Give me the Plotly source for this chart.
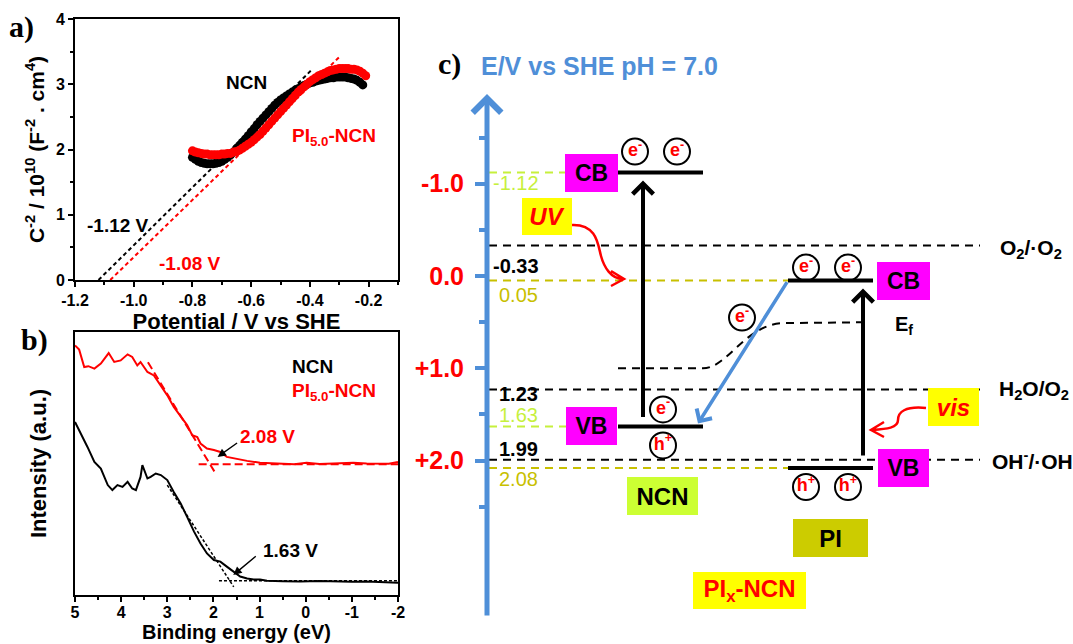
import plotly.graph_objects as go

W, H = 1073, 644
FONT = "Liberation Sans, Arial, sans-serif"
SERIF = "Liberation Serif, Times New Roman, serif"

# ======================= DATA =======================
# (a) Mott-Schottky plots
ms_v_ncn = [-0.80, -0.79, -0.78, -0.77, -0.76, -0.75, -0.74, -0.73, -0.72, -0.71,
            -0.70, -0.69, -0.68, -0.67, -0.66, -0.65, -0.64, -0.63, -0.62, -0.61,
            -0.60, -0.59, -0.58, -0.57, -0.56, -0.55, -0.54, -0.53, -0.52, -0.51,
            -0.50, -0.49, -0.48, -0.47, -0.46, -0.45, -0.44, -0.43, -0.42, -0.41,
            -0.40, -0.39, -0.38, -0.37, -0.36, -0.35, -0.34, -0.33, -0.32, -0.31,
            -0.30, -0.29, -0.28, -0.27, -0.26, -0.25, -0.24, -0.23, -0.22]
ms_c2_ncn = [1.88, 1.85, 1.82, 1.80, 1.79, 1.78, 1.78, 1.78, 1.79, 1.80,
             1.82, 1.85, 1.88, 1.92, 1.96, 2.01, 2.06, 2.11, 2.16, 2.21,
             2.27, 2.32, 2.38, 2.43, 2.48, 2.53, 2.58, 2.63, 2.68, 2.72,
             2.76, 2.79, 2.82, 2.85, 2.88, 2.91, 2.93, 2.96, 2.98, 3.00,
             3.02, 3.03, 3.05, 3.06, 3.07, 3.08, 3.09, 3.10, 3.10, 3.11,
             3.11, 3.11, 3.11, 3.10, 3.09, 3.08, 3.06, 3.03, 2.99]
ms_v_pi = [-0.80, -0.79, -0.78, -0.77, -0.76, -0.75, -0.74, -0.73, -0.72, -0.71,
           -0.70, -0.69, -0.68, -0.67, -0.66, -0.65, -0.64, -0.63, -0.62, -0.61,
           -0.60, -0.59, -0.58, -0.57, -0.56, -0.55, -0.54, -0.53, -0.52, -0.51,
           -0.50, -0.49, -0.48, -0.47, -0.46, -0.45, -0.44, -0.43, -0.42, -0.41,
           -0.40, -0.39, -0.38, -0.37, -0.36, -0.35, -0.34, -0.33, -0.32, -0.31,
           -0.30, -0.29, -0.28, -0.27, -0.26, -0.25, -0.24, -0.23, -0.22, -0.21]
ms_c2_pi = [1.98, 1.96, 1.95, 1.94, 1.93, 1.93, 1.92, 1.92, 1.92, 1.92,
            1.93, 1.93, 1.94, 1.94, 1.96, 1.97, 1.99, 2.02, 2.05, 2.08,
            2.11, 2.15, 2.19, 2.23, 2.28, 2.33, 2.38, 2.43, 2.48, 2.53,
            2.58, 2.63, 2.68, 2.73, 2.78, 2.83, 2.88, 2.92, 2.96, 3.00,
            3.04, 3.07, 3.10, 3.13, 3.15, 3.17, 3.19, 3.21, 3.22, 3.23,
            3.24, 3.24, 3.24, 3.24, 3.23, 3.23, 3.22, 3.20, 3.17, 3.13]
ms_fit_ncn_x = [-1.12, -0.394]
ms_fit_ncn_y = [0.0, 3.22]
ms_fit_pi_x = [-1.08, -0.297]
ms_fit_pi_y = [0.0, 3.43]
ms_xticks = [-1.2, -1.0, -0.8, -0.6, -0.4, -0.2]
ms_xticktext = ["-1.2", "-1.0", "-0.8", "-0.6", "-0.4", "-0.2"]
ms_yticks = [0, 1, 2, 3, 4]
ms_yticktext = ["0", "1", "2", "3", "4"]

# (b) valence-band XPS
xps_be_pi = [5.00, 4.91, 4.80, 4.71, 4.58, 4.44, 4.27, 4.15, 4.01, 3.86,
             3.76, 3.65, 3.58, 3.43, 3.29, 3.14, 3.00, 2.86, 2.71, 2.57,
             2.46, 2.35, 2.28, 2.14, 1.99, 1.85, 1.71, 1.56, 1.27, 0.99,
             0.70, 0.48, 0.25, -0.02, -0.30, -0.60, -0.80, -1.03, -1.32, -1.60,
             -1.80, -2.00]
xps_int_pi = [94.9, 93.3, 86.7, 87.0, 86.1, 88.0, 92.0, 88.6, 89.2, 91.5,
              90.5, 87.3, 88.6, 84.8, 83.5, 79.7, 75.9, 71.5, 67.7, 64.6,
              60.8, 60.1, 57.6, 55.7, 55.1, 54.4, 52.5, 51.9, 51.0, 50.3,
              50.1, 50.0, 49.7, 50.3, 49.8, 50.0, 50.2, 50.3, 50.0, 50.1,
              49.9, 50.6]
xps_be_ncn = [5.00, 4.87, 4.73, 4.58, 4.44, 4.29, 4.19, 4.08, 3.97, 3.86,
              3.76, 3.68, 3.58, 3.54, 3.50, 3.43, 3.36, 3.25, 3.14, 3.00,
              2.86, 2.71, 2.57, 2.42, 2.28, 2.14, 1.99, 1.85, 1.71, 1.56,
              1.42, 1.27, 1.13, 0.99, 0.84, 0.50, 0.12, -0.30, -0.60, -1.00,
              -1.32, -1.70, -2.00]
xps_int_ncn = [65.8, 61.4, 56.3, 50.6, 48.1, 41.8, 39.9, 41.8, 41.1, 43.0,
               40.5, 39.9, 44.9, 49.4, 47.5, 44.3, 44.9, 46.2, 45.6, 43.7,
               39.2, 34.8, 29.7, 24.1, 19.6, 15.8, 13.3, 12.7, 10.8, 8.9,
               7.0, 6.3, 5.9, 5.9, 5.4, 5.2, 5.1, 5.3, 5.1, 5.0,
               5.1, 5.0, 4.7]
xps_fit_pi_slope_x = [3.42, 1.98]
xps_fit_pi_slope_y = [88.5, 47.0]
xps_fit_pi_base_x = [2.32, -2.00]
xps_fit_pi_base_y = [49.7, 49.7]
xps_fit_ncn_slope_x = [3.00, 1.56]
xps_fit_ncn_slope_y = [41.8, 3.1]
xps_fit_ncn_base_x = [1.88, -2.00]
xps_fit_ncn_base_y = [5.4, 5.4]
xps_xticks = [5, 4, 3, 2, 1, 0, -1, -2]
xps_xticktext = ["5", "4", "3", "2", "1", "0", "-1", "-2"]

# (c) band diagram (E / V vs SHE, pH 7)
materials = ["NCN", "PI"]
cb_levels = [-1.12, 0.05]
vb_levels = [1.63, 2.08]
fermi_levels = [1.0, 0.5]
redox_names = ["O<sub>2</sub>/·O<sub>2</sub>", "H<sub>2</sub>O/O<sub>2</sub>", "OH<sup>-</sup>/·OH"]
redox_levels = [-0.33, 1.23, 1.99]
c_ticks = [-1.0, 0.0, 1.0, 2.0]
c_ticktext = ["-1.0", "0.0", "+1.0", "+2.0"]
c_minor_ticks = [-1.5, -0.5, 0.5, 1.5, 2.5]

# ======================= STYLE / GEOMETRY =======================
BLUE = "#4f8fd8"
LIME = "#c6f03c"
LIME_BOX = "#ccff33"
OLIVE = "#c8c000"
OLIVE_BOX = "#cccc00"
MAGENTA = "#ff00ff"
YELLOW = "#ffff00"
RED = "#ff0000"

PXV = 92.3     # pixels per volt (panel c)
E0 = 276.0     # pixel row of 0 V (panel c)


def ev(px):
    return (px - E0) / PXV


def dv(px):
    return px / PXV


AX_X = 487                 # x of energy axis (panel c)
band_x0 = [618, 788]       # band line start per material
band_x1 = [703, 873]       # band line end per material
arrow_x = [643, 863]       # excitation arrow x per material
box_x = [591, 903]         # CB/VB label boxes x per material
LINE_X0 = 489
REDOX_X1 = 980

fig = go.Figure()

# ---------- panel a ----------
fig.add_trace(go.Scatter(x=ms_fit_ncn_x, y=ms_fit_ncn_y, mode="lines",
                         line=dict(color="black", width=2, dash="4px,3px"),
                         xaxis="x", yaxis="y", hoverinfo="skip"))
fig.add_trace(go.Scatter(x=ms_fit_pi_x, y=ms_fit_pi_y, mode="lines",
                         line=dict(color=RED, width=2, dash="4px,3px"),
                         xaxis="x", yaxis="y", hoverinfo="skip"))
fig.add_trace(go.Scatter(x=ms_v_ncn, y=ms_c2_ncn, mode="markers", name="NCN",
                         marker=dict(color="black", size=9),
                         xaxis="x", yaxis="y"))
fig.add_trace(go.Scatter(x=ms_v_pi, y=ms_c2_pi, mode="markers", name="PI5.0-NCN",
                         marker=dict(color=RED, size=9),
                         xaxis="x", yaxis="y"))

# ---------- panel b ----------
for xs, ys in [(xps_fit_pi_slope_x, xps_fit_pi_slope_y),
               (xps_fit_pi_base_x, xps_fit_pi_base_y)]:
    fig.add_trace(go.Scatter(x=xs, y=ys, mode="lines",
                             line=dict(color=RED, width=2, dash="8px,4px"),
                             xaxis="x2", yaxis="y2", hoverinfo="skip"))
for xs, ys in [(xps_fit_ncn_slope_x, xps_fit_ncn_slope_y),
               (xps_fit_ncn_base_x, xps_fit_ncn_base_y)]:
    fig.add_trace(go.Scatter(x=xs, y=ys, mode="lines",
                             line=dict(color="black", width=1.5, dash="3px,2px"),
                             xaxis="x2", yaxis="y2", hoverinfo="skip"))
fig.add_trace(go.Scatter(x=xps_be_pi, y=xps_int_pi, mode="lines", name="PI5.0-NCN",
                         line=dict(color=RED, width=2), xaxis="x2", yaxis="y2"))
fig.add_trace(go.Scatter(x=xps_be_ncn, y=xps_int_ncn, mode="lines", name="NCN",
                         line=dict(color="black", width=2), xaxis="x2", yaxis="y2"))

# ---------- panel c ----------
shapes = []
# dashed reference levels
level_specs = [
    (cb_levels[0], LIME, 565),
    (redox_levels[0], "black", REDOX_X1),
    (cb_levels[1], OLIVE, band_x0[1]),
    (redox_levels[1], "black", REDOX_X1),
    (vb_levels[0], LIME, 566),
    (redox_levels[2], "black", REDOX_X1),
    (vb_levels[1], OLIVE, band_x0[1]),
]
for lvl, col, x1 in level_specs:
    shapes.append(dict(type="line", xref="x3", yref="y3", x0=LINE_X0, x1=x1,
                       y0=lvl, y1=lvl, line=dict(color=col, width=2, dash="8px,6px"),
                       layer="below"))
# band edges
for i in range(2):
    for lvl in (cb_levels[i], vb_levels[i]):
        shapes.append(dict(type="line", xref="x3", yref="y3", x0=band_x0[i], x1=band_x1[i],
                           y0=lvl, y1=lvl, line=dict(color="black", width=4)))
# Fermi level (dashed curve)
ef_path = (f"M {band_x0[0]},{fermi_levels[0]} L {band_x1[0]},{fermi_levels[0]} "
           f"C 727,{fermi_levels[0]} 745,{fermi_levels[1] + dv(3)} 782,{fermi_levels[1] + dv(1)} "
           f"L {band_x1[1] - 3},{fermi_levels[1]}")
shapes.append(dict(type="path", xref="x3", yref="y3", path=ef_path,
                   line=dict(color="black", width=2, dash="8px,6px")))
# curved red light arrows (UV, vis)
uv_path = (f"M 572,{ev(225)} C 597,{ev(224)} 598,{ev(245)} 601,{ev(256)} "
           f"S 611,{ev(279)} 623,{ev(279)} "
           f"M 611,{ev(271)} L 624,{ev(279)} L 611,{ev(286)}")
vis_path = (f"M 926,{ev(408)} C 905,{ev(406)} 898,{ev(412)} 898,{ev(420)} "
            f"S 887,{ev(429)} 872,{ev(430)} "
            f"M 884,{ev(422)} L 871,{ev(430)} L 884,{ev(437)}")
for p in (uv_path, vis_path):
    shapes.append(dict(type="path", xref="x3", yref="y3", path=p,
                       line=dict(color=RED, width=2.5)))

# carriers (e-, h+) as circled labels
car_x = [635, 677, 806, 848, 742, 663, 663, 806, 848]
car_y = [cb_levels[0] - dv(21), cb_levels[0] - dv(21),
         cb_levels[1] - dv(13), cb_levels[1] - dv(13),
         cb_levels[1] + dv(37),
         vb_levels[0] - dv(17), vb_levels[0] + dv(19),
         vb_levels[1] + dv(19), vb_levels[1] + dv(19)]
car_t = ["e<sup>-</sup>"] * 6 + ["h<sup>+</sup>"] * 3
fig.add_trace(go.Scatter(x=car_x, y=car_y, mode="markers+text", text=car_t,
                         textposition="middle center",
                         textfont=dict(color=RED, size=18, family=FONT, weight="bold"),
                         marker=dict(size=26, color="white", line=dict(color="black", width=2)),
                         xaxis="x3", yaxis="y3", hoverinfo="skip"))

ann = []


def txt(x, y, text, ref="", size=19, color="black", bold=True, xanchor="left",
        yshift=0, family=FONT, italic=False, **kw):
    d = dict(x=x, y=y, text=text, showarrow=False, xanchor=xanchor, yanchor="middle",
             yshift=yshift,
             font=dict(size=size, color=color, family=family,
                       weight="bold" if bold else "normal",
                       style="italic" if italic else "normal"))
    if ref == "paper":
        d.update(xref="paper", yref="paper")
    else:
        d.update(xref="x" + ref, yref="y" + ref)
    d.update(kw)
    ann.append(d)


# panel labels
txt(7 / W, 1 - 27 / H, "a)", "paper", size=30, family=SERIF)
txt(19 / W, 1 - 340 / H, "b)", "paper", size=30, family=SERIF)
txt(436 / W, 1 - 64 / H, "c)", "paper", size=30, family=SERIF)
txt(479 / W, 1 - 66 / H, "E/V vs SHE pH = 7.0", "paper", size=25, color=BLUE)

# panel a labels
txt(-0.693, 3.02, "NCN")
txt(-0.469, 2.19, "PI<sub>5.0</sub>-NCN", color=RED)
txt(-1.166, 0.84, "-1.12 V")
txt(-0.921, 0.26, "-1.08 V", color=RED)

# panel b labels
txt(0.34, 86.7, "NCN", "2")
txt(0.34, 77.2, "PI<sub>5.0</sub>-NCN", "2", color=RED)
txt(0.83, 60.1, "2.08 V", "2", color=RED, xanchor="center")
txt(0.34, 17.1, "1.63 V", "2", xanchor="center")
for hx, hy, axp, ayp in [(1.91, 52.5, 21, -15), (1.57, 7.6, 24, -20)]:
    ann.append(dict(x=hx, y=hy, xref="x2", yref="y2", ax=axp, ay=ayp, text="",
                    showarrow=True, arrowhead=2, arrowsize=1.2, arrowwidth=1.4,
                    arrowcolor="black"))

# panel c level value labels
lvl_labels = [
    (cb_levels[0], LIME, -10), (redox_levels[0], "black", -20),
    (cb_levels[1], OLIVE, -14), (redox_levels[1], "black", -4),
    (vb_levels[0], LIME, 11), (redox_levels[2], "black", 11),
    (vb_levels[1], OLIVE, -11),
]
for lvl, col, ys in lvl_labels:
    txt(491 if lvl < 0 else 497, lvl, f"{lvl:.2f}", "3", size=20, color=col,
        bold=(col == "black"), yshift=ys)

# redox couple names
for name, lvl, xl in zip(redox_names, redox_levels, [998, 997, 990]):
    txt(xl, lvl, name, "3", size=21, yshift=-3 if lvl < 0 else 0)
txt(893, fermi_levels[1], "E<sub>f</sub>", "3", size=20, yshift=-3)


def box(x, y, text, bg, w, h, color="black", italic=False, size=24):
    ann.append(dict(x=x, y=y, xref="x3", yref="y3", text=text, showarrow=False,
                    bgcolor=bg, width=w, height=h, borderpad=0, borderwidth=0,
                    xanchor="center", yanchor="middle", align="center", valign="middle",
                    font=dict(size=size, color=color, family=FONT, weight="bold",
                              style="italic" if italic else "normal")))


for i in range(2):
    box(box_x[i], cb_levels[i], "CB", MAGENTA, 53, 38, size=23)
    box(box_x[i], vb_levels[i], "VB", MAGENTA, 51, 38, size=23)
box(547, ev(216), "UV", YELLOW, 50, 37, color=RED, italic=True)
box(953, ev(407), "vis", YELLOW, 51, 38, color=RED, italic=True)
box(662.5, ev(496), "NCN", LIME_BOX, 71, 38)
box(830.5, ev(538), "PI", OLIVE_BOX, 75, 38)
box(749.5, ev(590), "PI<sub>x</sub>-NCN", YELLOW, 113, 37, color=RED)


# arrows (energy axis, excitations, electron transfer)
def arrow(x, y, ax, ay, color, width, size=1.0):
    ann.append(dict(x=x, y=y, ax=ax, ay=ay, xref="x3", yref="y3", axref="x3", ayref="y3",
                    text="", showarrow=True, arrowhead=4, arrowsize=size,
                    arrowwidth=width, arrowcolor=color, standoff=0, startstandoff=0))


arrow(AX_X, ev(94), AX_X, ev(617), BLUE, 5, 1.1)
arrow(arrow_x[0], cb_levels[0] + dv(8), arrow_x[0], vb_levels[0] - dv(8), "black", 4)
arrow(arrow_x[1], cb_levels[1] + dv(8), arrow_x[1], vb_levels[1] - dv(11), "black", 4)
arrow(band_x1[0] - 5, vb_levels[0] - dv(3), band_x0[1], cb_levels[1], BLUE, 3.5)

# ======================= LAYOUT =======================
axis_common = dict(showgrid=False, zeroline=False, showline=True, linecolor="black",
                   linewidth=2, mirror=True, ticks="outside", ticklen=5, tickwidth=2,
                   tickcolor="black", automargin=False,
                   tickfont=dict(size=16, family=FONT, color="black", weight="bold"))

fig.update_layout(
    width=W, height=H, template="none",
    margin=dict(l=0, r=0, t=0, b=0, pad=0),
    paper_bgcolor="white", plot_bgcolor="rgba(0,0,0,0)",
    showlegend=False,
    font=dict(family=FONT, color="black"),
    xaxis=dict(domain=[75 / W, 398 / W], range=[-1.2, -0.1], anchor="y",
               tickmode="array", tickvals=ms_xticks, ticktext=ms_xticktext,
               minor=dict(dtick=0.1, tick0=-1.2, ticks="outside", ticklen=3, tickwidth=2,
                          tickcolor="black"),
               title=dict(text="Potential / V vs SHE", standoff=3,
                          font=dict(size=22, family=FONT, weight="bold")),
               **axis_common),
    yaxis=dict(domain=[1 - 280 / H, 1 - 19 / H], range=[0, 4], anchor="x",
               tickmode="array", tickvals=ms_yticks, ticktext=ms_yticktext,
               minor=dict(dtick=0.5, tick0=0, ticks="outside", ticklen=3, tickwidth=2,
                          tickcolor="black"),
               title=dict(text="C<sup>-2</sup> / 10<sup>10</sup> (F<sup>-2</sup> . cm<sup>4</sup>)",
                          standoff=6, font=dict(size=21, family=FONT, weight="bold")),
               **axis_common),
    xaxis2=dict(domain=[75 / W, 398 / W], range=[5, -2], anchor="y2",
                tickmode="array", tickvals=xps_xticks, ticktext=xps_xticktext,
                minor=dict(dtick=0.5, tick0=0, ticks="outside", ticklen=3, tickwidth=2,
                           tickcolor="black"),
                ticklabelstandoff=-3,
                title=dict(text="Binding energy (eV)", standoff=2,
                           font=dict(size=20, family=FONT, weight="bold")),
                **axis_common),
    yaxis2=dict(domain=[1 - 595 / H, 1 - 332 / H], range=[0, 100], anchor="x2",
                showgrid=False, zeroline=False, showline=True, linecolor="black",
                linewidth=2, mirror=True, ticks="", showticklabels=False, automargin=False,
                title=dict(text="Intensity (a.u.)", standoff=20,
                           font=dict(size=22, family=FONT, weight="bold"))),
    xaxis3=dict(domain=[410 / W, 1], range=[410, W], anchor="y3", visible=False,
                showgrid=False, zeroline=False, automargin=False),
    yaxis3=dict(domain=[0, 1], range=[ev(H), ev(0)], anchor="free", position=AX_X / W,
                showgrid=False, zeroline=False, showline=False, automargin=False,
                tickmode="array", tickvals=c_ticks, ticktext=c_ticktext,
                ticks="outside", ticklen=12, tickwidth=4, tickcolor=BLUE,
                ticklabelstandoff=6,
                tickfont=dict(size=25, family=FONT, color=RED, weight="bold"),
                minor=dict(tickmode="array", tickvals=c_minor_ticks, ticks="outside",
                           ticklen=8, tickwidth=4, tickcolor=BLUE)),
    shapes=shapes,
    annotations=ann,
)

fig.write_html("out.html",
               config={"displayModeBar": False},
               post_script="document.body.style.margin='0px';"
                           "document.body.style.overflow='hidden';")
